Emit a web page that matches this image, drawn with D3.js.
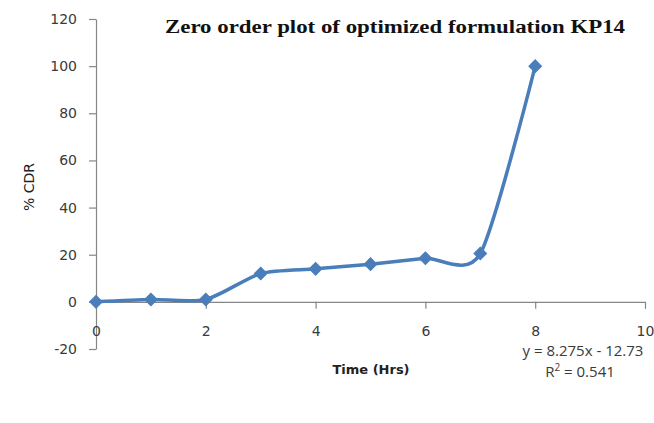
<!DOCTYPE html>
<html>
<head>
<meta charset="utf-8">
<script src="https://cdn.jsdelivr.net/npm/d3@7"></script>
<style>
  html, body { margin: 0; padding: 0; background: #fff; }
  svg { display: block; }
</style>
</head>
<body>
<svg id="chart" width="654" height="423"></svg>
<script>
// Release data for formulation KP14
const timeHrs = [0, 1, 2, 3, 4, 5, 6, 7, 8];
const cdrPercent = [0, 1, 1, 12, 14, 16, 18.5, 20.5, 100];
const xTicks = [0, 2, 4, 6, 8, 10];
const yTicks = [-20, 0, 20, 40, 60, 80, 100, 120];
const titleText = "Zero order plot of optimized formulation KP14";
const xLabel = "Time (Hrs)";
const yLabel = "% CDR";
const equationText = "y = 8.275x - 12.73";
const rSquaredValue = "0.541";

const svg = d3.select("#chart");
const axisColor = "#868686";
const tickTextColor = "#3a3a3a";
const seriesColor = "#4a7ebb";
const sans = "'Open Sans', 'Liberation Sans', Arial, sans-serif";
const wide = "'DejaVu Sans', Verdana, sans-serif";

const x = d3.scaleLinear().domain([0, 10]).range([96, 645]);
const y = d3.scaleLinear().domain([-20, 120]).range([349, 19]);

// Plain hyphen for negatives, as spreadsheet axes print them
const plainNumber = d => String(d);

// Y axis: vertical line at x = 0 with outward ticks
const yAxis = svg.append("g")
  .attr("transform", `translate(${x(0)},0)`)
  .call(d3.axisLeft(y).tickValues(yTicks).tickFormat(plainNumber)
    .tickSizeInner(7).tickSizeOuter(0).tickPadding(12));

// X axis crossing at y = 0, ticks pointing down
const xAxis = svg.append("g")
  .attr("transform", `translate(0,${y(0)})`)
  .call(d3.axisBottom(x).tickValues(xTicks).tickFormat(plainNumber)
    .tickSizeInner(7).tickSizeOuter(0).tickPadding(17));

[yAxis, xAxis].forEach(g => {
  g.select(".domain").attr("stroke", axisColor).attr("stroke-width", 1.2);
  g.selectAll(".tick line").attr("stroke", axisColor).attr("stroke-width", 1.2);
  g.selectAll(".tick text")
    .attr("fill", tickTextColor)
    .style("font-family", wide)
    .style("font-size", "14px");
});
xAxis.select(".tick line").remove();

// Smoothed series line
const line = d3.line()
  .x((d, i) => x(timeHrs[i]))
  .y(d => y(d))
  .curve(d3.curveCardinal.tension(0.25));

svg.append("path")
  .datum(cdrPercent)
  .attr("d", line)
  .attr("fill", "none")
  .attr("stroke", seriesColor)
  .attr("stroke-width", 3.5)
  .attr("stroke-linejoin", "round");

// Diamond markers
const diamond = d3.symbol().type(d3.symbolSquare).size(80);
svg.append("g")
  .selectAll("path")
  .data(cdrPercent)
  .join("path")
  .attr("d", diamond)
  .attr("transform", (d, i) => `translate(${x(timeHrs[i])},${y(d)}) rotate(45)`)
  .attr("fill", seriesColor)
  .attr("stroke", seriesColor)
  .attr("stroke-width", 1);

// Title
svg.append("text")
  .attr("x", 165)
  .attr("y", 33)
  .attr("textLength", 460)
  .attr("lengthAdjust", "spacingAndGlyphs")
  .style("font-family", "'Liberation Serif', 'Times New Roman', serif")
  .style("font-weight", "bold")
  .style("font-size", "18px")
  .attr("fill", "#111")
  .text(titleText);

// Axis titles
svg.append("text")
  .attr("x", 371)
  .attr("y", 374)
  .attr("text-anchor", "middle")
  .style("font-family", wide)
  .style("font-weight", "bold")
  .style("font-size", "13px")
  .attr("fill", "#222")
  .text(xLabel);

svg.append("text")
  .attr("transform", "translate(34,187) rotate(-90)")
  .attr("text-anchor", "middle")
  .style("font-family", wide)
  .style("font-size", "14px")
  .attr("fill", "#222")
  .text(yLabel);

// Trendline equation and R²
svg.append("text")
  .attr("x", 583)
  .attr("y", 356)
  .attr("text-anchor", "middle")
  .style("font-family", sans)
  .style("font-size", "15px")
  .attr("fill", tickTextColor)
  .text(equationText);

const r2 = svg.append("text")
  .attr("x", 580)
  .attr("y", 377)
  .attr("text-anchor", "middle")
  .style("font-family", sans)
  .style("font-size", "15px")
  .attr("fill", tickTextColor);
r2.append("tspan").text("R");
r2.append("tspan").attr("dy", -6).style("font-size", "10px").text("2");
r2.append("tspan").attr("dy", 6).text(" = " + rSquaredValue);
</script>
</body>
</html>
